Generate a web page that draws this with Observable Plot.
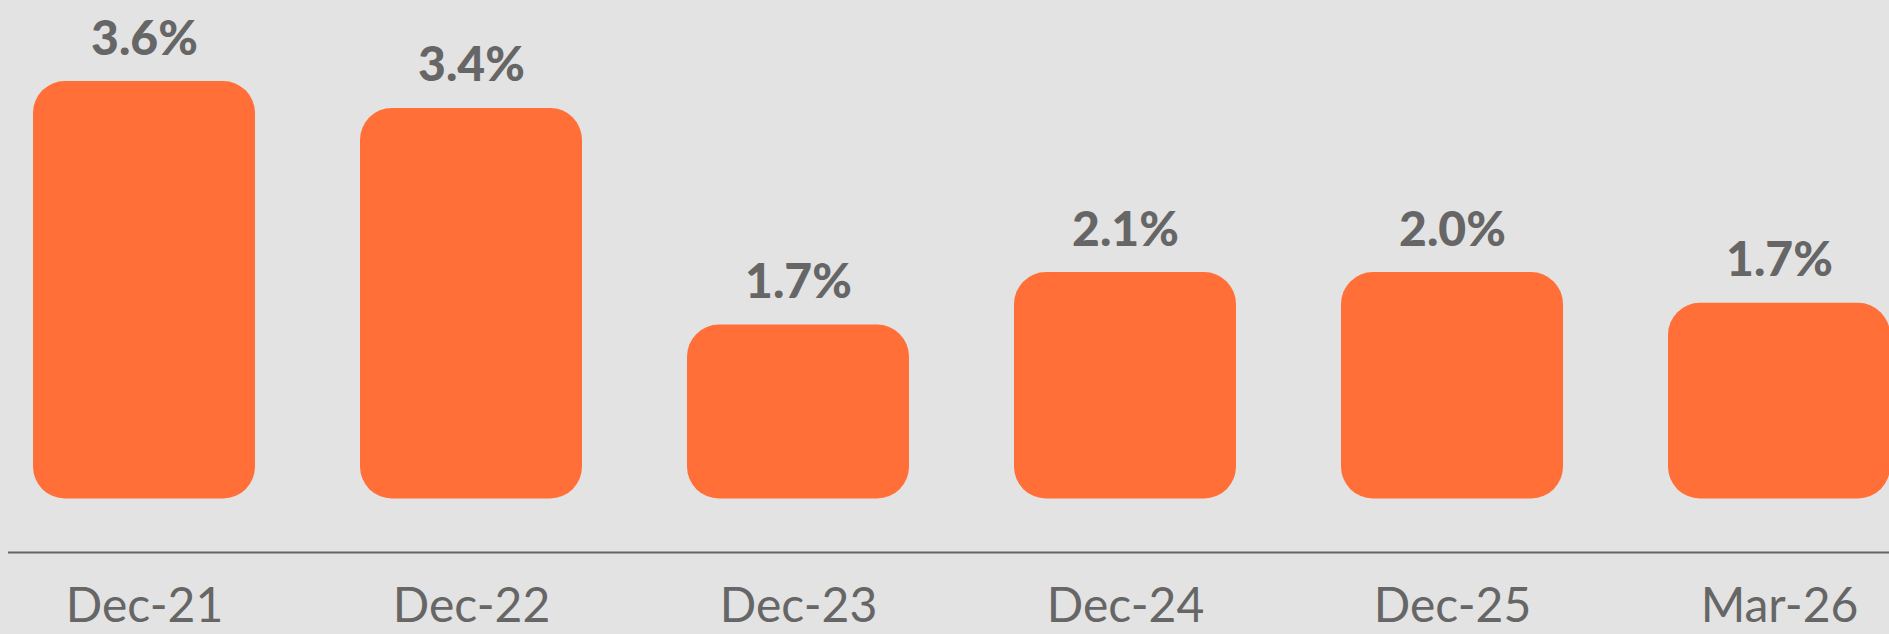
<!DOCTYPE html>
<html>
<head>
<meta charset="utf-8">
<script src="https://cdn.jsdelivr.net/npm/d3@7"></script>
<script src="https://cdn.jsdelivr.net/npm/@observablehq/plot@0.6"></script>
<style>
  html, body { margin: 0; padding: 0; background: #e3e3e3; }
  #chart { width: 1889px; height: 634px; overflow: hidden; }
</style>
</head>
<body>
<div id="chart"></div>
<script>
// Period labels (x axis)
const periods = ["Dec-21", "Dec-22", "Dec-23", "Dec-24", "Dec-25", "Mar-26"];
// Rates as printed above the bars (%)
const rates = [3.6, 3.4, 1.7, 2.1, 2.0, 1.7];
// Bar top levels (%)
const barLevels = [3.6, 3.39, 1.70, 2.11, 2.11, 1.87];
// Level where the bars start and level of the axis line (scale values)
const barBase = 0.343;
const axisLevel = -0.074;

const data = periods.map((p, i) => ({period: p, rate: rates[i], level: barLevels[i]}));

const chart = Plot.plot({
  width: 1889,
  height: 634,
  marginTop: 81,
  marginBottom: 82,
  marginLeft: 32,
  marginRight: -2,
  style: {background: "#e3e3e3", fontFamily: "Lato, 'Open Sans', sans-serif", fontSize: "48px", color: "#666666"},
  x: {domain: periods, paddingInner: 0.32, paddingOuter: 0, label: null},
  y: {domain: [axisLevel, 3.6], axis: null},
  marks: [
    Plot.ruleY([axisLevel], {stroke: "#666666", strokeWidth: 2, insetLeft: -24, insetRight: 2}),
    Plot.barY(data, {x: "period", y1: barBase, y2: "level", fill: "#ff6f37", rx: 32, ry: 32}),
    Plot.text(data, {
      x: "period", y: "level", text: d => d.rate.toFixed(1) + "%",
      lineAnchor: "bottom", dy: -27, fontSize: 48, fontWeight: 900, fill: "#666666"
    }),
    Plot.axisX({tickSize: 0, tickPadding: 35, fontSize: 48, fontWeight: 400, fill: "#666666", label: null})
  ]
});
document.getElementById("chart").appendChild(chart);
</script>
</body>
</html>
